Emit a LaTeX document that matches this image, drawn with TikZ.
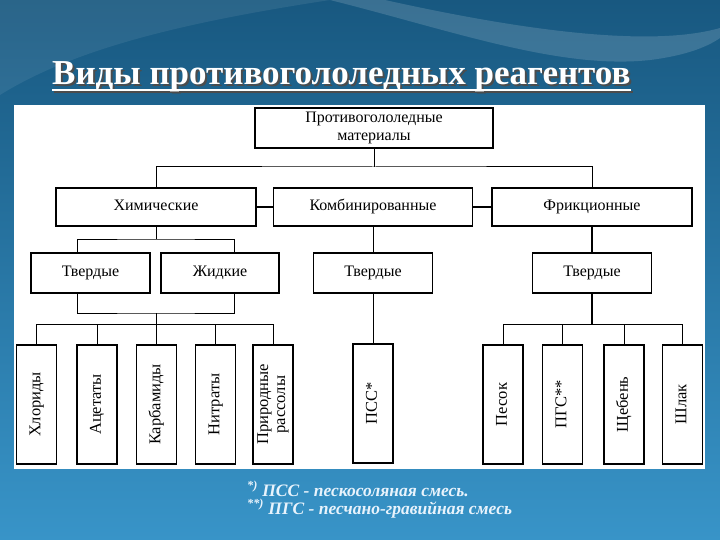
\documentclass[tikz,border=0pt]{standalone}
\usepackage{fontspec}
\setmainfont{Liberation Serif}
\usepackage{tikz}
\usetikzlibrary{positioning, calc}

\definecolor{bgdark}{RGB}{24,88,128}
\definecolor{bglight}{RGB}{56,148,200}
\definecolor{notecol}{RGB}{232,243,252}

\tikzset{
  box/.style={draw=black, line width=1.1pt, fill=white, inner sep=2pt,
    align=center, text height=11pt, text depth=3.5pt,
    font=\fontsize{16}{18}\selectfont},
  twolines/.style={text height={}, text depth={}},
  leaf/.style={box, rotate=90, minimum width=119pt, minimum height=40pt,
    font=\fontsize{16.5}{17}\selectfont},
  link/.style={line width=1pt},
  boldlink/.style={line width=2.4pt},
  headline/.style={anchor=base west, inner sep=0pt,
    font=\bfseries\fontsize{35}{38}\selectfont},
  note/.style={anchor=base west, inner sep=0pt, text=notecol,
    font=\bfseries\itshape\fontsize{17.5}{19}\selectfont}
}

\begin{document}
\begin{tikzpicture}[x=1pt, y=-1pt]

  % --- Background -------------------------------------------------
  \useasboundingbox (0,0) rectangle (720,540);
  \shade[top color=bgdark, bottom color=bglight] (0,0) rectangle (720,540);
  \fill[white, opacity=0.08] (0,0) -- (330,0)
    .. controls (200,20) and (80,45) .. (0,95) -- cycle;
  \fill[white, opacity=0.15] (330,0)
    .. controls (450,30) and (560,70) .. (650,60)
    .. controls (690,55) and (710,45) .. (720,38) -- (720,28)
    .. controls (650,48) and (520,30) .. (385,0) -- cycle;

  % Title with shadow
  \node[headline, text=black!70] (titleshadow) at (54,87)
    {Виды противогололедных реагентов};
  \draw[black!70, line width=1.5pt]
    ($(titleshadow.base west)+(0,5)$) -- ($(titleshadow.base east)+(0,5)$);
  \node[headline, text=white] (title) at (52,85)
    {Виды противогололедных реагентов};
  \draw[white, line width=1.5pt]
    ($(title.base west)+(0,5)$) -- ($(title.base east)+(0,5)$);

  % White panel
  \fill[white] (14,105) rectangle (705,469);

  % --- Boxes ------------------------------------------------------
  \node[box, twolines, minimum width=238pt, minimum height=40pt] (top) at (374,128)
    {Противогололедные\\материалы};

  \node[box, minimum width=200pt, minimum height=38pt] (chem) at (156,207) {Химические};
  \node[box, minimum width=199pt, minimum height=38pt] (comb) at (373,207) {Комбинированные};
  \node[box, minimum width=200pt, minimum height=38pt] (fric) at (592,207) {Фрикционные};

  \node[box, minimum width=119pt, minimum height=40pt] (solidL) at (90.5,273) {Твердые};
  \node[box, minimum width=118pt, minimum height=40pt] (liquid) at (220,273) {Жидкие};
  \node[box, minimum width=119pt, minimum height=40pt] (solidM) at (373,273) {Твердые};
  \node[box, minimum width=119pt, minimum height=40pt] (solidR) at (592,273) {Твердые};

  % vertical leaves
  \foreach \name/\x/\txt in {chl/36.5/Хлориды, ace/97/Ацетаты, carb/156.5/Карбамиды,
      nitr/215.5/Нитраты}
    \node[leaf] (\name) at (\x,404.5) {\txt};
  \node[leaf, twolines] (brine) at (273,404.5) {Природные\\рассолы};

  \node[leaf] (pss) at (373,403.5) {ПСС*};

  \foreach \name/\x/\txt in {sand/503/Песок, pgs/562.5/ПГС**,
      gravel/624/Щебень, slag/682.5/Шлак}
    \node[leaf] (\name) at (\x,404.5) {\txt};

  % --- Connectors -------------------------------------------------
  \coordinate (bus1) at (374,167);
  \draw[link] (top) -- (bus1);
  \draw[link] (chem.north) |- (bus1) -| (fric.north);
  \draw[boldlink] (chem) -- (comb);
  \draw[boldlink] (comb) -- (fric);

  \coordinate (bus2) at (156,239);
  \draw[link] (chem) -- (bus2);
  \draw[link] ([xshift=-13.5pt]solidL.north) |- (bus2) -| ([xshift=14pt]liquid.north);
  \draw[link] (comb) -- (solidM);
  \draw[boldlink] (fric) -- (solidR);

  \coordinate (bus3) at (156,313);
  \coordinate (bus4) at (156,324);
  \draw[link] ([xshift=-13.5pt]solidL.south) |- (bus3) -| ([xshift=14pt]liquid.south);
  \draw[link] (bus3) -- (bus4);
  \foreach \n in {chl,ace,carb,nitr,brine}
    \draw[link] (bus4) -| (\n.east);

  \draw[link] (solidM) -- (pss);

  \coordinate (bus5) at (592,324);
  \draw[boldlink] (solidR) -- (bus5);
  \foreach \n in {sand,pgs,gravel,slag}
    \draw[link] (bus5) -| (\n.east);

  % --- Footnotes --------------------------------------------------
  \node[note] (note1) at (247,496) {\textsuperscript{*)} ПСС - пескосоляная смесь.};
  \node[note] (note2) at (247,514) {\textsuperscript{**)} ПГС - песчано-гравийная смесь};
\end{tikzpicture}
\end{document}
